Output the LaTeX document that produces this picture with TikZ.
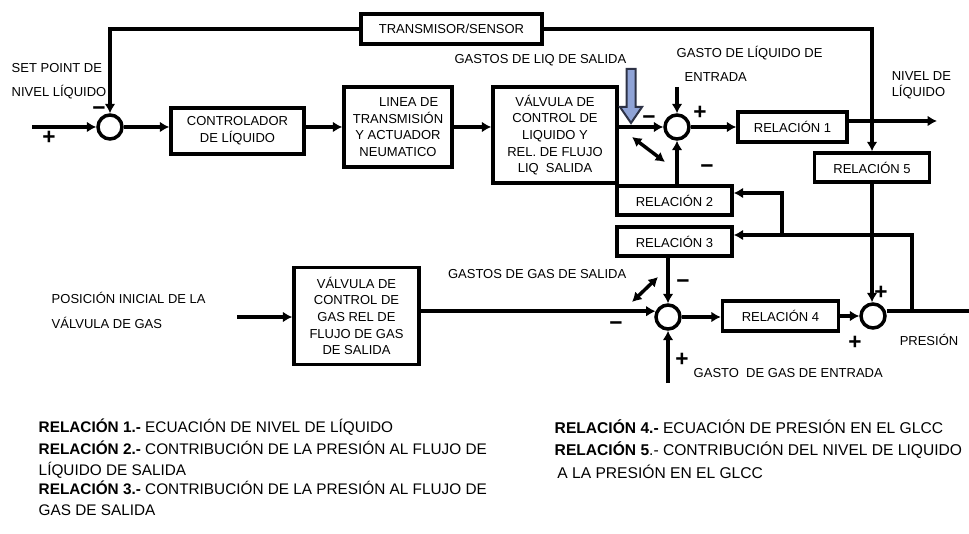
\documentclass[tikz,border=0pt]{standalone}
\usepackage{fontspec}
\setmainfont{Liberation Sans}
\usetikzlibrary{arrows.meta, positioning, calc}
\definecolor{arrowblue}{RGB}{143,163,214}
\definecolor{arrowedge}{RGB}{45,50,70}

\begin{document}
\begin{tikzpicture}[x=0.75pt, y=-0.75pt, line width=2.6pt,
                    >={Latex[length=7pt,width=8pt]}]

        % Setup the styles for blocks, sums and texts
        \tikzset{block style/.style={draw, rectangle, inner sep=0pt, align=center,
                                     font=\fontsize{9.75}{12.5}\selectfont},
                 sum style/.style={draw, circle, minimum size=18pt, inner sep=0pt},
                 tag style/.style={inner sep=0pt, align=left,
                                   font=\fontsize{9.75}{18.5}\selectfont},
                 plus style/.style={inner sep=0pt, yshift=-1.9pt,
                                    font=\fontsize{17}{17}\bfseries},
                 minus style/.style={inner sep=0pt, yshift=-3.75pt,
                                     font=\fontsize{17}{17}\bfseries},
                 legend style/.style={inner sep=0pt, align=left, anchor=west,
                                      font=\fontsize{11.5}{15.5}\selectfont}}

        \useasboundingbox (0,0) rectangle (969,534);

        % Draw the blocks
        \node[block style, minimum width=99.75pt, minimum height=34.5pt] at (237.5,131) (ctrl) {CONTROLADOR\\DE LÍQUIDO};
        \node[block style, minimum width=81pt, minimum height=60pt] at (398,127) (linea) {\hspace*{16pt}LINEA DE\\TRANSMISIÓN\\Y ACTUADOR\\NEUMATICO};
        \node[block style, minimum width=93pt, minimum height=72pt] at (555,135) (valv) {VÁLVULA DE\\CONTROL DE\\LIQUIDO Y\\REL. DE FLUJO\\LIQ\ \ SALIDA};
        \node[block style, minimum width=135.75pt, minimum height=22.5pt] at (451.5,29) (trans) {TRANSMISOR/SENSOR};
        \node[block style, minimum width=81.75pt, minimum height=22.5pt] at (792.5,127) (rel1) {RELACIÓN 1};
        \node[block style, minimum width=86.25pt, minimum height=21.75pt] at (872,167.5) (rel5) {RELACIÓN 5};
        \node[block style, minimum width=86.25pt, minimum height=21.75pt] at (674.5,200.5) (rel2) {RELACIÓN 2};
        \node[block style, minimum width=86.25pt, minimum height=21.75pt] at (674.5,241.5) (rel3) {RELACIÓN 3};
        \node[block style, minimum width=93.75pt, minimum height=72.75pt] at (356.5,316) (valvgas) {VÁLVULA DE\\CONTROL DE\\GAS REL DE\\FLUJO DE GAS\\DE SALIDA};
        \node[block style, minimum width=87pt, minimum height=22.5pt] at (780.5,316) (rel4) {RELACIÓN 4};

        % Draw the summing points
        \node[sum style] at (110,127) (sum1) {};
        \node[sum style] at (677,127) (sum2) {};
        \node[sum style] at (668,317) (sum4) {};
        \node[sum style] at (873,316) (sum3) {};

        % Free ends of the connectors
        \coordinate (setpoint) at (32,127);
        \coordinate (nivel) at (937,121);
        \coordinate (liqin) at (677,87);
        \coordinate (posv) at (237,317);
        \coordinate (gasin) at (668,383);
        \coordinate (pres) at (969,311);
        \coordinate (br3) at (912,311);
        \coordinate (fb3) at (912,235);
        \coordinate (br2) at (782,235);
        \coordinate (fb2) at (782,193);
        \coordinate (dl1) at (632,137);
        \coordinate (dl2) at (665,162);
        \coordinate (dg1) at (632,302);
        \coordinate (dg2) at (658,277);

        % Connect the liquid loop
        \draw[->] (setpoint) -- (sum1);
        \draw[->] (sum1) -- (sum1 -| ctrl.west);
        \draw[->] (ctrl.east |- sum1) -- (sum1 -| linea.west);
        \draw[->] (linea.east |- sum1) -- (sum1 -| valv.west);
        \draw[->] (valv.east |- sum2) -- (sum2);
        \draw[->] (liqin) -- (sum2);
        \draw[->] (rel2.north -| sum2) -- (sum2);
        \draw[->] (sum2) -- (rel1);
        \draw[->] (rel1.east |- nivel) -- (nivel);
        \draw[->] (trans.west) -| (sum1.north);
        \draw[->] (trans.east) -| (rel5.north);
        \draw[<->] (dl1) -- (dl2);

        % Connect the gas loop
        \draw[->] (posv) -- (valvgas.west |- posv);
        \draw[->] (valvgas.east |- sum4.155) -- (sum4.155);
        \draw[->] (rel3.south -| sum4) -- (sum4);
        \draw[->] (gasin) -- (sum4);
        \draw[->] (sum4) -- (sum4 -| rel4.west);
        \draw[->] (rel4.east |- sum3) -- (sum3);
        \draw[->] (rel5.south) -- (rel5.south |- sum3.north);
        \draw (sum3.east |- pres) -- (pres);
        \draw[->] (br3) -- (fb3) -- (fb3 -| rel3.east);
        \draw[->] (br2) -- (fb2) -- (fb2 -| rel2.east);
        \draw[<->] (dg1) -- (dg2);

        % Blue arrow of the liquid outflow
        \draw[line width=1.5pt, draw=arrowedge, fill=arrowblue]
            (626.5,69) -- (635.5,69) -- (635.5,107) -- (642,107) -- (631,123)
            -- (620,107) -- (626.5,107) -- cycle;

        % Labels and signs
        \node[tag style, anchor=west, text depth=0pt] at (10,80) (setlbl) {SET POINT DE\\NIVEL LÍQUIDO};
        \node[minus style] at (99,106) (s1m) {−};
        \node[plus style] at (49,135) (s1p) {+};
        \node[tag style, anchor=east] at (628,60) (liqoutlbl) {GASTOS DE LIQ DE SALIDA};
        \node[minus style] at (649,115) (s2a) {−};
        \node[tag style, anchor=west] at (675,64) (liqinlbl) {GASTO DE LÍQUIDO DE\\\hspace*{6pt}ENTRADA};
        \node[plus style] at (700,110) (s2b) {+};
        \node[minus style] at (707,164) (s2c) {−};
        \node[tag style, anchor=west, font=\fontsize{9.75}{12}\selectfont] at (890,85) (nivlbl) {NIVEL DE\\LÍQUIDO};
        \node[tag style, anchor=west] at (50,310.5) (poslbl) {POSICIÓN INICIAL DE LA\\VÁLVULA DE GAS};
        \node[tag style, anchor=east] at (628,274) (gasoutlbl) {GASTOS DE GAS DE SALIDA};
        \node[minus style] at (616,321) (s4a) {−};
        \node[minus style] at (683,279) (s4b) {−};
        \node[plus style] at (682,357) (s4c) {+};
        \node[tag style, anchor=west] at (692,373) (gasinlbl) {GASTO\ \ DE GAS DE ENTRADA};
        \node[plus style] at (881,290) (s3a) {+};
        \node[plus style] at (855,340) (s3b) {+};
        \node[tag style, anchor=west] at (898,340) (preslbl) {PRESIÓN};

        % Legend
        \node[legend style] at (37,427) (leg1) {\textbf{RELACIÓN 1.-} ECUACIÓN DE NIVEL DE LÍQUIDO};
        \node[legend style] at (37,459.5) (leg2) {\textbf{RELACIÓN 2.-} CONTRIBUCIÓN DE LA PRESIÓN AL FLUJO DE\\LÍQUIDO DE SALIDA};
        \node[legend style] at (37,498) (leg3) {\textbf{RELACIÓN 3.-} CONTRIBUCIÓN DE LA PRESIÓN AL FLUJO DE\\GAS DE SALIDA};
        \node[legend style, font=\fontsize{11.7}{15.5}\selectfont] at (553,427) (leg4) {\textbf{RELACIÓN 4.-} ECUACIÓN DE PRESIÓN EN EL GLCC};
        \node[legend style, font=\fontsize{11.7}{15.5}\selectfont] at (553,460) (leg5) {\textbf{RELACIÓN 5}.- CONTRIBUCIÓN DEL NIVEL DE LIQUIDO\\[2pt]\hspace*{2pt}A LA PRESIÓN EN EL GLCC};

\end{tikzpicture}
\end{document}
